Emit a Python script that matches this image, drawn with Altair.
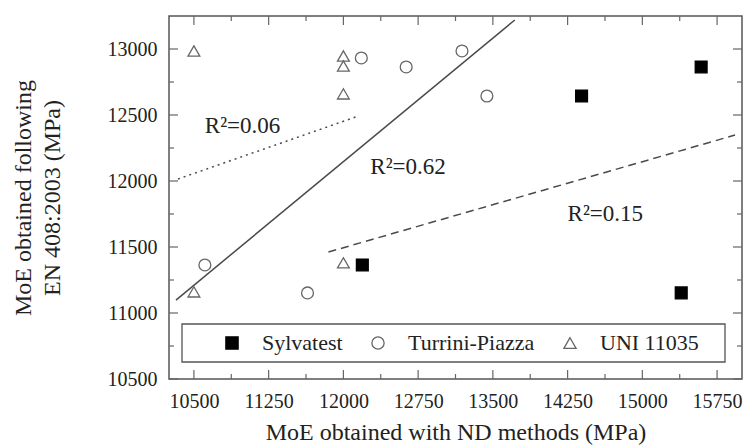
import altair as alt
import pandas as pd

# ---------------- data ----------------
methods = ["Sylvatest", "Turrini-Piazza", "UNI 11035"]

sylva_x = [12190, 14390, 15590, 15390]
sylva_y = [11364, 12644, 12864, 11152]
turr_x = [10610, 11640, 12180, 12630, 13190, 13440]
turr_y = [11364, 11152, 12932, 12864, 12985, 12644]
uni_x = [10500, 10500, 12000, 12000, 12000, 12000]
uni_y = [12985, 11160, 12947, 12871, 12660, 11380]

# regression lines (end points)
solid_x = [10320, 13720]
solid_y = [11098, 13220]
dotted_x = [10340, 12150]
dotted_y = [12015, 12492]
dashed_x = [11850, 15930]
dashed_y = [11462, 12348]

# annotations
ann_text = ["R²=0.06", "R²=0.62", "R²=0.15"]
ann_x = [10610, 12270, 14250]
ann_y = [12364, 12053, 11697]

# axis ticks
x_major = [10500, 11250, 12000, 12750, 13500, 14250, 15000, 15750]
x_minor = [10875, 11625, 12375, 13125, 13875, 14625, 15375]
y_major = [10500, 11000, 11500, 12000, 12500, 13000]
y_minor = [10750, 11250, 11750, 12250, 12750]

X_DOMAIN = [10250, 16000]
Y_DOMAIN = [10500, 13250]

# ---------------- layout ----------------
W, H = 573, 363
FONT = "Liberation Serif"
TXT = "#222222"
GRAY = "#666666"
MAJ, MIN = 9, 5

pts = pd.DataFrame({
    "x": sylva_x + turr_x + uni_x,
    "y": sylva_y + turr_y + uni_y,
    "method": [methods[0]] * len(sylva_x) + [methods[1]] * len(turr_x) + [methods[2]] * len(uni_x),
})

x_axis = alt.Axis(values=x_major, format="d", ticks=False, domain=False, grid=False,
                  labelFont=FONT, labelFontSize=20, labelColor=TXT, labelPadding=12,
                  title="MoE obtained with ND methods (MPa)", titleFont=FONT,
                  titleFontSize=24, titleFontWeight="normal", titleColor=TXT, titlePadding=9)
y_axis = alt.Axis(values=y_major, format="d", ticks=False, domain=False, grid=False,
                  labelFont=FONT, labelFontSize=20, labelColor=TXT, labelPadding=12,
                  title=["MoE obtained following", "EN 408:2003 (MPa)"], titleFont=FONT,
                  titleFontSize=24, titleFontWeight="normal", titleColor=TXT,
                  titlePadding=43, titleLineHeight=29)
xs = alt.Scale(domain=X_DOMAIN, nice=False, zero=False)
ys = alt.Scale(domain=Y_DOMAIN, nice=False, zero=False)


def X(field):
    return alt.X(f"{field}:Q", scale=xs, axis=x_axis)


def Y(field):
    return alt.Y(f"{field}:Q", scale=ys, axis=y_axis)


legend = alt.Legend(orient="none", legendX=52, legendY=316, direction="horizontal",
                    title=None, labelFont=FONT, labelFontSize=22, labelColor=TXT,
                    symbolSize=150, symbolStrokeWidth=1.3, labelOffset=19,
                    columnPadding=24, padding=0)

shape_scale = alt.Scale(domain=methods, range=["square", "circle", "triangle-up"])
fill_scale = alt.Scale(domain=methods, range=["#000000", "transparent", "transparent"])
stroke_scale = alt.Scale(domain=methods, range=["#000000", GRAY, GRAY])

points = alt.Chart(pts).mark_point(size=140, strokeWidth=1.3, opacity=1).encode(
    x=X("x"), y=Y("y"),
    shape=alt.Shape("method:N", scale=shape_scale, legend=legend),
    fill=alt.Fill("method:N", scale=fill_scale, legend=legend),
    stroke=alt.Stroke("method:N", scale=stroke_scale, legend=legend),
)


def fit_line(xv, yv, dash):
    df = pd.DataFrame({"x": xv, "y": yv})
    kw = dict(color="#4a4a4a", strokeWidth=1.5)
    if dash:
        kw["strokeDash"] = dash
    return alt.Chart(df).mark_line(**kw).encode(x=X("x"), y=Y("y"))


solid = fit_line(solid_x, solid_y, None)
dotted = fit_line(dotted_x, dotted_y, [2, 4])
dashed = fit_line(dashed_x, dashed_y, [8, 5])

ann = alt.Chart(pd.DataFrame({"x": ann_x, "y": ann_y, "t": ann_text})).mark_text(
    font=FONT, fontSize=23, color=TXT, align="left", baseline="alphabetic"
).encode(x=X("x"), y=Y("y"), text="t:N")


def xticks(vals, length):
    df = pd.DataFrame({"v": vals})
    base = alt.Chart(df).mark_rule(color=GRAY, strokeWidth=1.2)
    bottom = base.encode(x=X("v"), y=alt.value(H), y2=alt.value(H - length))
    top = base.encode(x=X("v"), y=alt.value(0), y2=alt.value(length))
    return [bottom, top]


def yticks(vals, length):
    df = pd.DataFrame({"v": vals})
    base = alt.Chart(df).mark_rule(color=GRAY, strokeWidth=1.2)
    left = base.encode(y=Y("v"), x=alt.value(0), x2=alt.value(length))
    right = base.encode(y=Y("v"), x=alt.value(W), x2=alt.value(W - length))
    return [left, right]


legend_box = alt.Chart(pd.DataFrame({"a": [0]})).mark_rect(
    fill="white", stroke="#555555", strokeWidth=1.3
).encode(x=alt.value(13), x2=alt.value(556), y=alt.value(308), y2=alt.value(346))

layers = (xticks(x_major, MAJ) + xticks(x_minor, MIN) + yticks(y_major, MAJ)
          + yticks(y_minor, MIN) + [dotted, solid, dashed, legend_box, ann, points])

chart = alt.layer(*layers).properties(
    width=W, height=H,
    padding={"left": 169, "top": 16, "right": 5, "bottom": 67},
    autosize=alt.AutoSizeParams(type="none"),
    background="white",
).configure_view(stroke="#555555", strokeWidth=1.5)

chart.save("out.html", embed_options={"renderer": "svg", "actions": False})
